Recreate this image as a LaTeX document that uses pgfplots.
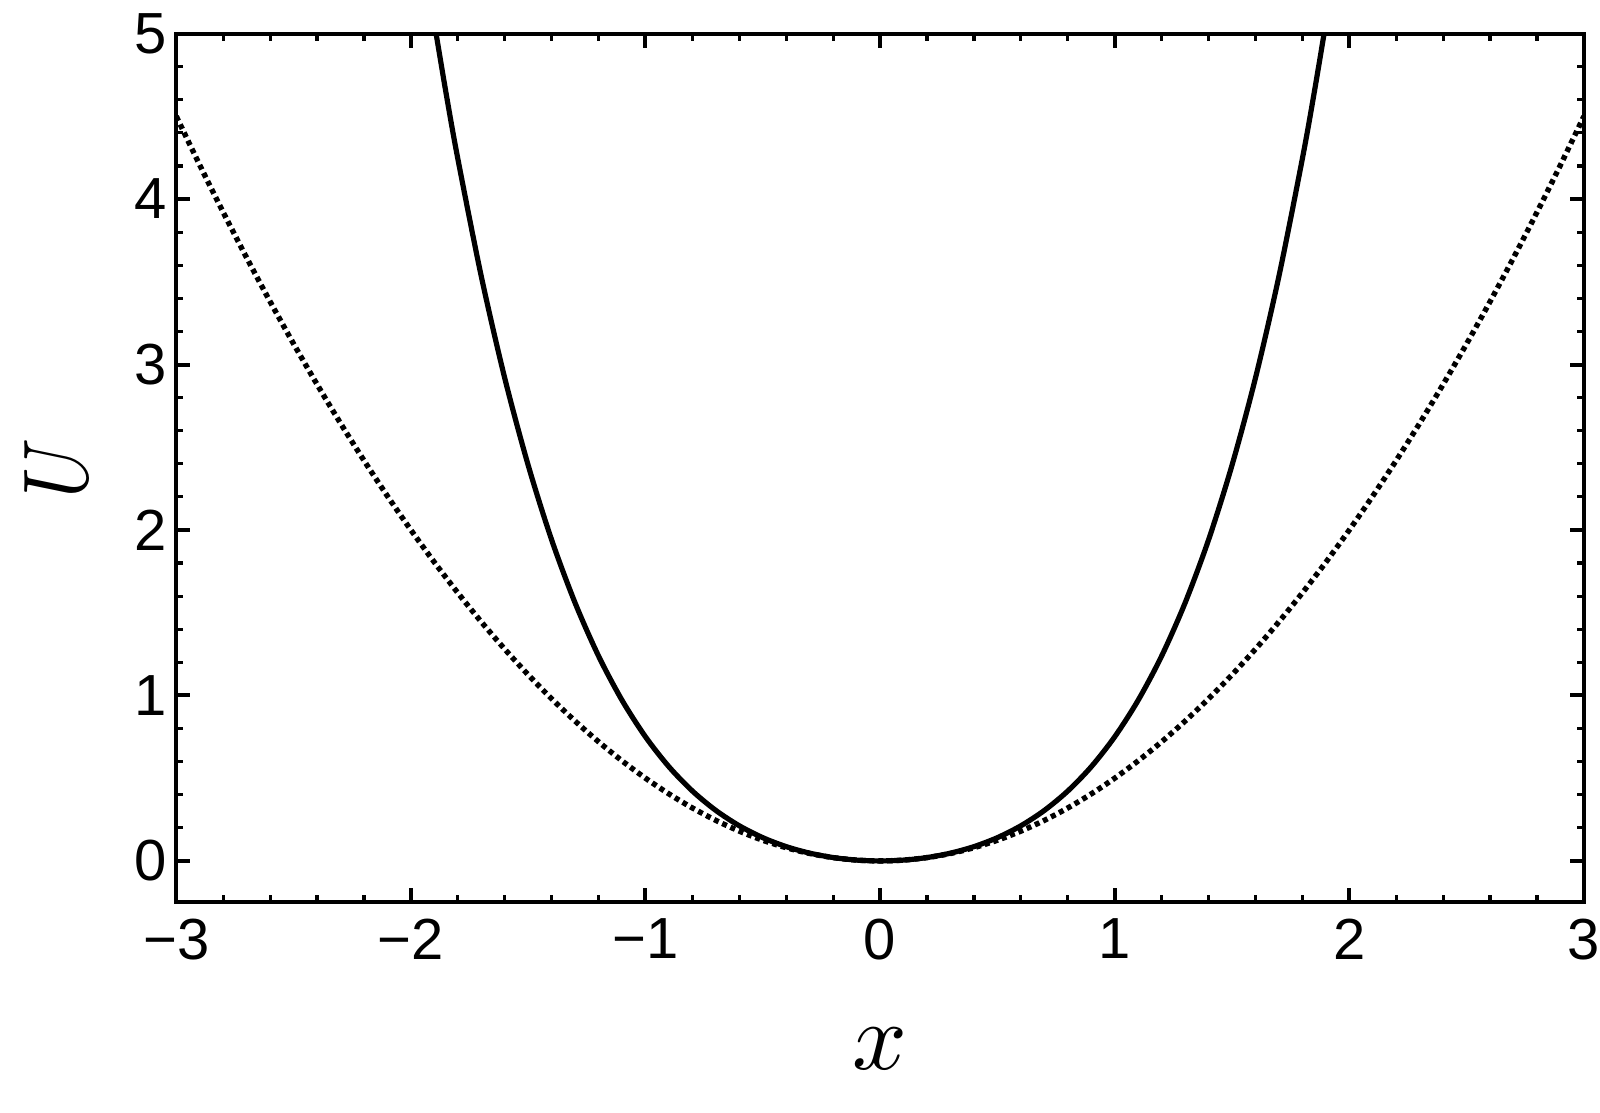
\documentclass[border=0pt]{standalone}
\usepackage{graphicx}
\usepackage{fontspec}
\setmainfont{Liberation Sans}
\usepackage{pgfplots}
\pgfplotsset{compat=1.18}
\begin{document}
\begin{tikzpicture}
\begin{axis}[
  scale only axis,
  width=352.1pt, height=217.3pt,
  xmin=-3, xmax=3, ymin=-0.25, ymax=5,
  xtick={-3,-2,-1,0,1,2,3},
  xticklabels={−3,−2,−1,0,1,2,3},
  ytick={0,1,2,3,4,5},
  yticklabels={0,1,2,3,4,5},
  minor x tick num=4, minor y tick num=4,
  tick align=inside,
  major tick length=3.5pt, minor tick length=1.8pt,
  every major tick/.style={line width=1pt, black},
  every minor tick/.style={line width=0.8pt, black},
  axis line style={line width=1pt},
  tick label style={font=\fontsize{14.5}{14.5}\selectfont, /pgf/number format/assume math mode=true},
  xticklabel style={inner sep=0pt, yshift=-4pt},
  yticklabel style={inner sep=0pt, xshift=-2.1pt},
  xlabel={\scalebox{2.4}{$x$}},
  ylabel={\scalebox{1.9}[2.3]{$U$}},
  xlabel style={at={(axis description cs:0.5,-0.169)}, anchor=center},
  ylabel style={at={(axis description cs:-0.0855,0.5)}, anchor=center},
]
\addplot[black, line width=1.35pt, dash pattern=on 1.25pt off 1pt, smooth] coordinates {
(-3,4.5) (-2.9,4.205) (-2.8,3.92) (-2.7,3.645) (-2.6,3.38) (-2.5,3.125) (-2.4,2.88) (-2.3,2.645) (-2.2,2.42) (-2.1,2.205)
(-2,2.0) (-1.9,1.805) (-1.8,1.62) (-1.7,1.445) (-1.6,1.28) (-1.5,1.125) (-1.4,0.98) (-1.3,0.845) (-1.2,0.72) (-1.1,0.605)
(-1,0.5) (-0.9,0.405) (-0.8,0.32) (-0.7,0.245) (-0.6,0.18) (-0.5,0.125) (-0.4,0.08) (-0.3,0.045) (-0.2,0.02) (-0.1,0.005)
(0,0)
(0.1,0.005) (0.2,0.02) (0.3,0.045) (0.4,0.08) (0.5,0.125) (0.6,0.18) (0.7,0.245) (0.8,0.32) (0.9,0.405) (1,0.5)
(1.1,0.605) (1.2,0.72) (1.3,0.845) (1.4,0.98) (1.5,1.125) (1.6,1.28) (1.7,1.445) (1.8,1.62) (1.9,1.805) (2,2.0)
(2.1,2.205) (2.2,2.42) (2.3,2.645) (2.4,2.88) (2.5,3.125) (2.6,3.38) (2.7,3.645) (2.8,3.92) (2.9,4.205) (3,4.5)
};
\addplot[black, line width=1.3pt, smooth] coordinates {
(-1.9,5.063) (-1.85,4.639) (-1.8,4.244) (-1.7,3.533) (-1.6,2.918) (-1.5,2.391) (-1.4,1.940) (-1.3,1.559) (-1.2,1.238) (-1.1,0.971)
(-1,0.75) (-0.9,0.569) (-0.8,0.4224) (-0.7,0.305) (-0.6,0.2124) (-0.5,0.1406) (-0.4,0.0864) (-0.3,0.047) (-0.2,0.0204) (-0.1,0.005)
(0,0)
(0.1,0.005) (0.2,0.0204) (0.3,0.047) (0.4,0.0864) (0.5,0.1406) (0.6,0.2124) (0.7,0.305) (0.8,0.4224) (0.9,0.569) (1,0.75)
(1.1,0.971) (1.2,1.238) (1.3,1.559) (1.4,1.940) (1.5,2.391) (1.6,2.918) (1.7,3.533) (1.8,4.244) (1.85,4.639) (1.9,5.063)
};
\end{axis}
\path ([xshift=-44.1pt,yshift=-52.5pt]current axis.south west) rectangle ([xshift=3.75pt,yshift=8.4pt]current axis.north east);
\end{tikzpicture}
\end{document}
